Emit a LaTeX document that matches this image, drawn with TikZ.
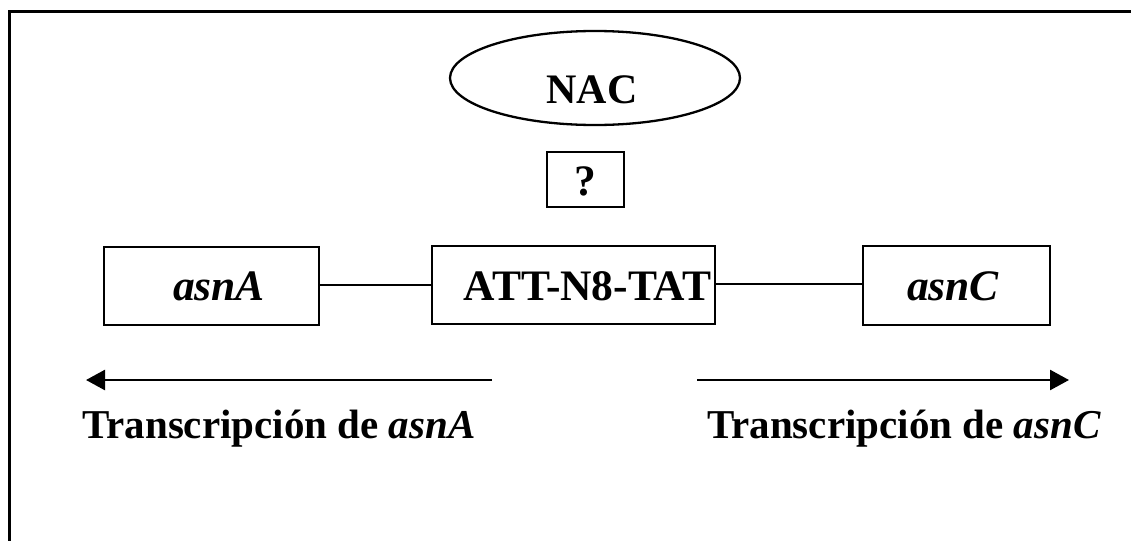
\documentclass[tikz,border=0pt]{standalone}
\usepackage{fontspec}
\setmainfont{Liberation Serif}
\usetikzlibrary{shapes.geometric,arrows.meta}

\tikzset{
  genebox/.style={draw, line width=2.3pt, inner sep=0pt},
  lbl/.style={font=\fontsize{41}{48}\selectfont\bfseries, inner sep=0pt},
  boxlbl/.style={font=\fontsize{43.5}{50}\selectfont\bfseries, inner sep=0pt},
  link/.style={line width=2pt},
  txarrow/.style={line width=2.6pt, -{Triangle[length=19pt,width=20pt]}},
  frame/.style={line width=3pt}
}

\begin{document}
\begin{tikzpicture}[x=1pt,y=-1pt]
  \useasboundingbox (0,0) rectangle (1131,541);

  % open frame: top and left edges only
  \coordinate (ftl) at (9,11);
  \coordinate (ftr) at (1131,11);
  \coordinate (fbl) at (9,541);
  \draw[frame] (ftr) -- (ftl) -- (fbl);

  % regulator and unknown factor
  \node[draw, ellipse, line width=2.3pt, minimum width=290pt, minimum height=94pt] (nac) at (595,78) {};
  \node[boxlbl, font=\fontsize{42}{50}\selectfont\bfseries] (naclabel) at (592,90) {NAC};
  \node[genebox, minimum width=77pt, minimum height=55pt] (unk) at (585.5,179.5) {};
  \node[boxlbl] (unklabel) at (585.5,181) {?};

  % genes and the intergenic region
  \node[genebox, minimum width=215pt, minimum height=78pt] (asnA) at (211.5,286) {};
  \node[boxlbl, font=\fontsize{43.5}{50}\selectfont\bfseries\itshape] (asnAlabel) at (219,286) {asnA};
  \node[genebox, minimum width=283pt, minimum height=78pt] (att) at (573.5,285) {};
  \node[boxlbl] (attlabel) at (587.5,286) {ATT-N8-TAT};
  \node[genebox, minimum width=187pt, minimum height=79pt] (asnC) at (956.5,285.5) {};
  \node[boxlbl, font=\fontsize{43.5}{50}\selectfont\bfseries\itshape] (asnClabel) at (953,286) {asnC};

  \draw[link] (asnA.east |- 0,285) -- (att.west |- 0,285);
  \draw[link] (att.east |- 0,284) -- (asnC.west |- 0,284);

  % transcription directions
  \coordinate (la0) at (492,380);
  \coordinate (la1) at (86,380);
  \coordinate (ra0) at (697,380);
  \coordinate (ra1) at (1069,380);
  \draw[txarrow] (la0) -- (la1);
  \draw[txarrow] (ra0) -- (ra1);

  \node[lbl, anchor=base west] (txA) at (82,438) {Transcripción de \textit{asnA}};
  \node[lbl, anchor=base east] (txC) at (1101,438) {Transcripción de \textit{asnC}};
\end{tikzpicture}
\end{document}
